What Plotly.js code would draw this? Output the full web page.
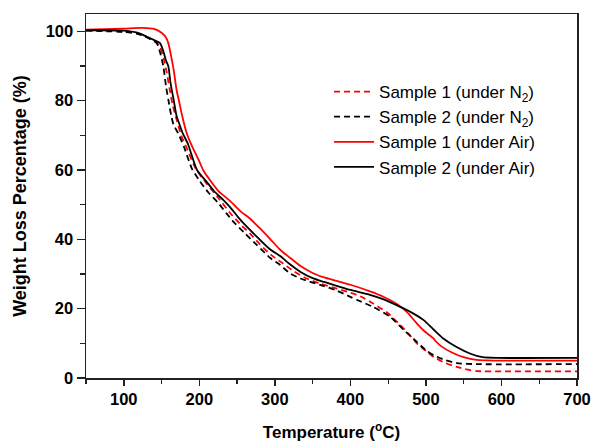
<!DOCTYPE html>
<html>
<head>
<meta charset="utf-8">
<script src="https://cdn.plot.ly/plotly-3.0.1.min.js"></script>
<style>html,body{margin:0;padding:0;background:#fff;}#chart{width:592px;height:442px;}</style>
</head>
<body>
<div id="chart"></div>
<script>
// Sample 1 under N2 (red dashed)
var s1n2_T = [50,100,118,130,140,148,153,157,161,165,170,176,185,195,210,225,240,255,267,280,295,311,325,340,360,382,400,413,430,449,465,478,488,500,510,525,541,555,567,600,700];
var s1n2_W = [100.3,100.0,99.5,98.4,97.4,95.5,92,88,83,78.5,74.5,70,65.5,60.5,56,52,47.8,44.2,41.7,38.6,35.5,33,30.8,28.9,27.2,25.8,24.6,23.6,21.5,18.8,15.5,12.5,10,7.8,6.1,4.4,3.2,2.4,2.0,1.9,1.9];
// Sample 2 under N2 (black dashed)
var s2n2_T = [50,100,118,130,143.6,148,152.4,156,159,163,166,172,180,190,200,212,225,236,245,260,276,294,307,320,334,350,364,382,400,409,430,453,470,488,500,510,525,541,567,700];
var s2n2_W = [100.2,99.8,99.3,98.3,96.6,94,89.9,84,80.3,75.5,73,70.6,66.5,60.5,57,53.5,50.5,47.5,45.1,41.8,38.4,34.6,32.6,30.2,28.7,27.5,26.6,25.2,23.4,22.5,20.5,17.6,14,10.4,8,6.6,5.2,4.3,4.0,4.0];
// Sample 1 under Air (red solid)
var s1air_T = [50,100,125,140,150,155,159,163,166,170,174,178,183,190,200,205,215,225,241,255,267,280,295,307,320,334,350,365,382,400,426,445,462,475,487,497,505,510,513,520,535,550,567,580,600,700];
var s1air_W = [100.5,100.8,101.0,100.7,99.6,98.5,96.6,92.5,89,83,79,75,70.8,67,62.5,60,56.8,54,51,48,46,43.2,39.8,37,34.7,32.3,30.3,29,28,26.9,25,23.3,21.3,19,16,13.7,12.3,11.4,10.6,9.2,7.3,6,5.2,5.1,5.0,5.0];
// Sample 2 under Air (black solid)
var s2air_T = [50,100,118,130,139,148,152,156,159,162,166,170,174,178,185,197,210,220,232,241,251,260,275,293,307,320,334,350,365,382,400,426,445,466,480,497,510,523,540,559,575,594,700];
var s2air_W = [100.3,100.2,99.6,98.5,97.6,96.6,94.5,91.5,89.9,85,80.3,75.5,73,70.6,67.5,60,56.5,53.8,51.3,49.2,46.5,44.3,41,37.2,35.2,32.8,30.6,28.8,27.7,26.6,25.4,24.0,22.6,20.5,19,16.7,14,11.4,9,7,6.0,5.8,5.8];

var names = ['Sample 1 (under N<sub>2</sub>)','Sample 2 (under N<sub>2</sub>)','Sample 1 (under Air)','Sample 2 (under Air)'];

function tr(x, y, name, color, dash) {
  return {x: x, y: y, name: name, type: 'scatter', mode: 'lines',
    line: {color: color, width: 1.8, dash: dash, shape: 'spline', smoothing: 0.6}};
}
var data = [
  tr(s1n2_T, s1n2_W, names[0], '#ff0000', '6px,4px'),
  tr(s2n2_T, s2n2_W, names[1], '#000000', '6px,4px'),
  tr(s1air_T, s1air_W, names[2], '#ff0000', 'solid'),
  tr(s2air_T, s2air_W, names[3], '#000000', 'solid')
];

var axFont = {family: 'Liberation Sans, Arial, sans-serif', size: 16.5, color: '#000', weight: 'bold'};
var layout = {
  width: 592, height: 442,
  margin: {l: 86, r: 15, t: 14, b: 64},
  paper_bgcolor: '#fff', plot_bgcolor: '#fff',
  showlegend: true,
  legend: {x: 0.495, y: 0.835, xanchor: 'left', yanchor: 'top', bgcolor: 'rgba(0,0,0,0)',
    font: {family: 'Liberation Sans, Arial, sans-serif', size: 17, color: '#000'},
    itemwidth: 40, tracegroupgap: 0},
  xaxis: {range: [50, 700], showgrid: false, zeroline: false,
    showline: true, linecolor: '#222', linewidth: 1.5, mirror: true,
    ticks: 'outside', ticklen: 6, tickwidth: 1.5, tickcolor: '#222',
    tick0: 0, dtick: 100, tickfont: axFont,
    minor: {ticks: 'outside', ticklen: 4, tickwidth: 1.2, tickcolor: '#222', dtick: 50, tick0: 0, showgrid: false},
    title: {text: 'Temperature (<sup>o</sup>C)', font: {family: 'Liberation Sans, Arial, sans-serif', size: 17, color: '#000', weight: 'bold'}, standoff: 22}
  },
  yaxis: {range: [0, 105], showgrid: false, zeroline: false,
    showline: true, linecolor: '#222', linewidth: 1.5, mirror: true,
    ticks: 'outside', ticklen: 8, tickwidth: 1.5, tickcolor: '#222',
    tick0: 0, dtick: 20, tickfont: axFont,
    minor: {ticks: 'outside', ticklen: 5, tickwidth: 1.2, tickcolor: '#222', dtick: 10, tick0: 0, showgrid: false},
    title: {text: 'Weight Loss Percentage (%)', font: {family: 'Liberation Sans, Arial, sans-serif', size: 18, color: '#000', weight: 'bold'}, standoff: 14}
  }
};
Plotly.newPlot('chart', data, layout, {displayModeBar: false, staticPlot: true});
</script>
</body>
</html>
